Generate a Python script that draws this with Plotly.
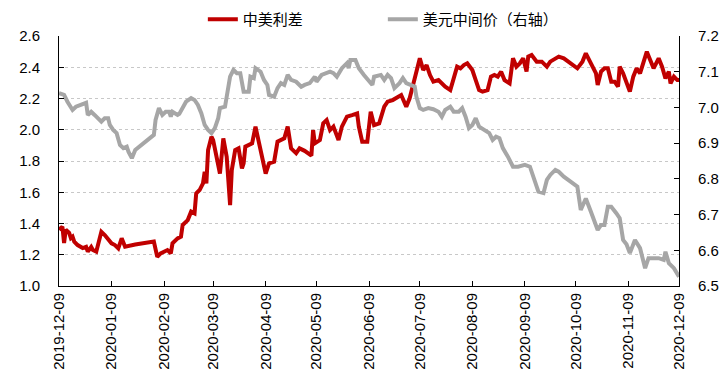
import plotly.graph_objects as go

spread_dates = [
    "2019-12-09","2019-12-11","2019-12-12","2019-12-13","2019-12-15","2019-12-16","2019-12-17","2019-12-18",
    "2019-12-20","2019-12-23","2019-12-25","2019-12-26","2019-12-28","2019-12-29","2019-12-31","2020-01-03",
    "2020-01-05","2020-01-07","2020-01-09","2020-01-11","2020-01-13","2020-01-15","2020-01-17","2020-01-23",
    "2020-02-03","2020-02-05","2020-02-07","2020-02-11","2020-02-13","2020-02-14","2020-02-17","2020-02-19",
    "2020-02-20","2020-02-23","2020-02-25","2020-02-27","2020-02-28","2020-03-01","2020-03-03","2020-03-04",
    "2020-03-05","2020-03-06","2020-03-08","2020-03-09","2020-03-11","2020-03-13","2020-03-15","2020-03-17",
    "2020-03-19","2020-03-20","2020-03-22","2020-03-24","2020-03-26","2020-03-27","2020-03-28","2020-03-30",
    "2020-04-01","2020-04-03","2020-04-06","2020-04-09","2020-04-11","2020-04-14","2020-04-16","2020-04-18",
    "2020-04-20","2020-04-22","2020-04-24","2020-04-27","2020-04-29","2020-05-02","2020-05-06","2020-05-07",
    "2020-05-08","2020-05-11","2020-05-13","2020-05-15","2020-05-17","2020-05-19","2020-05-22","2020-05-24",
    "2020-05-27","2020-05-30","2020-06-02","2020-06-03","2020-06-05","2020-06-08","2020-06-10","2020-06-12",
    "2020-06-15","2020-06-18","2020-06-20","2020-06-23","2020-06-25","2020-06-28","2020-07-01","2020-07-03",
    "2020-07-05","2020-07-07","2020-07-09","2020-07-11","2020-07-13","2020-07-15","2020-07-17","2020-07-20",
    "2020-07-22","2020-07-24","2020-07-27","2020-07-29","2020-07-31","2020-08-02","2020-08-04","2020-08-06",
    "2020-08-09","2020-08-11","2020-08-13","2020-08-15","2020-08-18","2020-08-20","2020-08-22","2020-08-24",
    "2020-08-26","2020-08-28","2020-08-31","2020-09-02","2020-09-04","2020-09-06","2020-09-08","2020-09-10",
    "2020-09-11","2020-09-13","2020-09-16","2020-09-19","2020-09-22","2020-09-24","2020-09-27","2020-09-29",
    "2020-10-02","2020-10-06","2020-10-10","2020-10-13","2020-10-15","2020-10-18","2020-10-21","2020-10-22",
    "2020-10-24","2020-10-26","2020-10-28","2020-10-30","2020-11-01","2020-11-03","2020-11-04","2020-11-06",
    "2020-11-08","2020-11-10","2020-11-12","2020-11-14","2020-11-16","2020-11-18","2020-11-20","2020-11-22",
    "2020-11-24","2020-11-27","2020-11-29","2020-12-01","2020-12-03","2020-12-04","2020-12-06","2020-12-08",
    "2020-12-09",
]
spread_values = [
    1.36,1.38,1.275,1.36,1.34,1.307,1.316,1.284,
    1.262,1.243,1.251,1.22,1.25,1.23,1.22,1.347,
    1.326,1.294,1.273,1.262,1.241,1.305,1.251,1.265,
    1.284,1.187,1.209,1.23,1.209,1.273,1.305,1.316,
    1.39,1.422,1.476,1.465,1.593,1.614,1.657,1.731,
    1.657,1.87,1.955,1.934,1.827,1.72,1.945,1.827,
    1.518,1.742,1.87,1.881,1.753,1.785,1.892,1.902,
    1.913,2.02,1.87,1.72,1.785,1.796,1.924,1.934,
    1.945,2.02,1.881,1.85,1.881,1.865,1.835,1.998,
    1.913,1.934,2.041,2.062,1.998,2.02,1.934,2.02,
    2.084,2.094,2.105,2.02,1.924,1.924,2.116,2.03,
    2.041,2.148,2.18,2.19,2.201,2.222,2.148,2.201,
    2.286,2.361,2.457,2.382,2.414,2.35,2.308,2.318,
    2.297,2.276,2.254,2.34,2.404,2.393,2.414,2.425,
    2.382,2.318,2.254,2.244,2.254,2.34,2.35,2.34,
    2.372,2.318,2.297,2.457,2.404,2.425,2.457,2.372,
    2.468,2.478,2.436,2.436,2.404,2.436,2.452,2.468,
    2.457,2.425,2.393,2.436,2.489,2.425,2.361,2.286,
    2.372,2.393,2.393,2.308,2.308,2.276,2.404,2.361,
    2.297,2.244,2.34,2.393,2.361,2.425,2.50,2.446,
    2.393,2.457,2.404,2.329,2.372,2.297,2.34,2.318,
    2.318,
]

usdcny_dates = [
    "2019-12-09","2019-12-12","2019-12-14","2019-12-17","2019-12-19","2019-12-22","2019-12-25","2019-12-26",
    "2019-12-28","2019-12-30","2020-01-01","2020-01-03","2020-01-05","2020-01-07","2020-01-08","2020-01-10",
    "2020-01-12","2020-01-14","2020-01-16","2020-01-18","2020-01-19","2020-01-21","2020-01-23","2020-02-03",
    "2020-02-04","2020-02-06","2020-02-08","2020-02-10","2020-02-12","2020-02-13","2020-02-14","2020-02-17",
    "2020-02-18","2020-02-20","2020-02-22","2020-02-25","2020-02-27","2020-02-29","2020-03-02","2020-03-04",
    "2020-03-06","2020-03-08","2020-03-10","2020-03-12","2020-03-13","2020-03-16","2020-03-17","2020-03-19",
    "2020-03-21","2020-03-23","2020-03-25","2020-03-27","2020-03-30","2020-03-31","2020-04-02","2020-04-03",
    "2020-04-06","2020-04-08","2020-04-10","2020-04-11","2020-04-14","2020-04-16","2020-04-18","2020-04-20",
    "2020-04-22","2020-04-24","2020-04-27","2020-04-30","2020-05-02","2020-05-05","2020-05-08","2020-05-09",
    "2020-05-12","2020-05-15","2020-05-17","2020-05-19","2020-05-21","2020-05-24","2020-05-27","2020-05-28",
    "2020-05-29","2020-06-01","2020-06-03","2020-06-06","2020-06-09","2020-06-11","2020-06-12","2020-06-16",
    "2020-06-18","2020-06-20","2020-06-22","2020-06-24","2020-06-27","2020-06-29","2020-07-01","2020-07-04",
    "2020-07-06","2020-07-07","2020-07-09","2020-07-11","2020-07-14","2020-07-17","2020-07-20","2020-07-22",
    "2020-07-24","2020-07-27","2020-07-29","2020-08-01","2020-08-03","2020-08-05","2020-08-07","2020-08-09",
    "2020-08-11","2020-08-13","2020-08-16","2020-08-19","2020-08-21","2020-08-23","2020-08-25","2020-08-27",
    "2020-08-30","2020-09-02","2020-09-05","2020-09-09","2020-09-12","2020-09-14","2020-09-17","2020-09-20",
    "2020-09-22","2020-09-24","2020-09-27","2020-09-29","2020-10-02","2020-10-06","2020-10-10","2020-10-12",
    "2020-10-15","2020-10-18","2020-10-20","2020-10-22","2020-10-24","2020-10-26","2020-10-28","2020-10-30",
    "2020-11-02","2020-11-04","2020-11-06","2020-11-08","2020-11-10","2020-11-13","2020-11-16","2020-11-18",
    "2020-11-19","2020-11-21","2020-11-24","2020-11-27","2020-11-30","2020-12-01","2020-12-03","2020-12-06",
    "2020-12-09",
]
usdcny_values = [
    7.04,7.035,7.016,6.993,7.002,7.007,7.013,6.979,
    6.988,6.979,6.97,6.96,6.97,6.97,6.951,6.937,
    6.928,6.895,6.886,6.89,6.876,6.858,6.881,6.923,
    6.965,6.998,6.979,6.988,6.988,6.974,6.988,6.979,
    6.982,7.0,7.016,7.026,7.021,7.007,6.984,6.951,
    6.937,6.928,6.942,6.97,6.998,7.002,7.03,7.086,
    7.105,7.096,7.096,7.044,7.044,7.086,7.082,7.11,
    7.1,7.077,7.063,7.035,7.03,7.054,7.068,7.063,
    7.091,7.077,7.072,7.058,7.063,7.068,7.086,7.072,
    7.091,7.096,7.1,7.096,7.086,7.11,7.124,7.11,
    7.133,7.133,7.11,7.091,7.072,7.063,7.086,7.091,
    7.077,7.091,7.082,7.054,7.068,7.082,7.068,7.063,
    7.058,7.03,6.998,6.993,6.998,6.995,6.988,6.974,
    6.993,7.002,6.988,6.988,6.998,6.974,6.942,6.951,
    6.97,6.946,6.937,6.928,6.909,6.918,6.914,6.886,
    6.862,6.834,6.834,6.839,6.834,6.806,6.764,6.76,
    6.797,6.811,6.825,6.82,6.806,6.792,6.778,6.713,
    6.745,6.708,6.68,6.657,6.671,6.671,6.722,6.722,
    6.704,6.69,6.629,6.617,6.592,6.629,6.606,6.568,
    6.55,6.578,6.578,6.578,6.573,6.596,6.564,6.55,
    6.526,
]

tick_dates = ["2019-12-09","2020-01-09","2020-02-09","2020-03-09","2020-04-09","2020-05-09",
              "2020-06-09","2020-07-09","2020-08-09","2020-09-09","2020-10-09","2020-11-09","2020-12-09"]
tick_labels = tick_dates

FONT = "Liberation Sans, Arial, Noto Sans CJK SC, sans-serif"

fig = go.Figure()
fig.add_trace(go.Scatter(x=spread_dates, y=spread_values, name="中美利差", mode="lines",
                         line=dict(color="#C00000", width=4), yaxis="y"))
fig.add_trace(go.Scatter(x=usdcny_dates, y=usdcny_values, name="美元中间价（右轴）", mode="lines",
                         line=dict(color="#A6A6A6", width=4), yaxis="y2"))

fig.update_layout(
    width=726, height=388,
    margin=dict(l=59, r=47, t=36, b=102, autoexpand=False),
    paper_bgcolor="white", plot_bgcolor="white",
    font=dict(family=FONT, size=15, color="black"),
    showlegend=True,
    legend=dict(orientation="h", x=0.232, y=1.0, xanchor="left", yanchor="bottom",
                font=dict(family="Noto Sans CJK SC, sans-serif", size=15, color="black"),
                entrywidth=135, entrywidthmode="pixels", itemwidth=30,
                bgcolor="rgba(0,0,0,0)"),
    xaxis=dict(type="date", range=["2019-12-09", "2020-12-09"], tickmode="array",
               tickvals=tick_dates, ticktext=tick_labels, tickangle=-90,
               ticks="inside", ticklen=5, tickcolor="black",
               showline=True, linecolor="black", linewidth=1, showgrid=False, zeroline=False,
               tickfont=dict(size=15)),
    yaxis=dict(range=[1.0, 2.6], dtick=0.2, tick0=1.0, tickformat=".1f",
               ticks="inside", ticklen=5, tickcolor="black",
               showline=True, linecolor="black", linewidth=1,
               showgrid=True, gridcolor="#C8C8C8", griddash="dot", gridwidth=1,
               zeroline=False, ticklabelstandoff=15),
    yaxis2=dict(range=[6.5, 7.2], dtick=0.1, tick0=6.5, tickformat=".1f", overlaying="y", side="right",
                ticks="inside", ticklen=5, tickcolor="black",
                showline=True, linecolor="black", linewidth=1,
                showgrid=False, zeroline=False, ticklabelstandoff=15),
)

fig.write_html("out.html", config={"displayModeBar": False},
               post_script="document.body.style.margin='0px';")
